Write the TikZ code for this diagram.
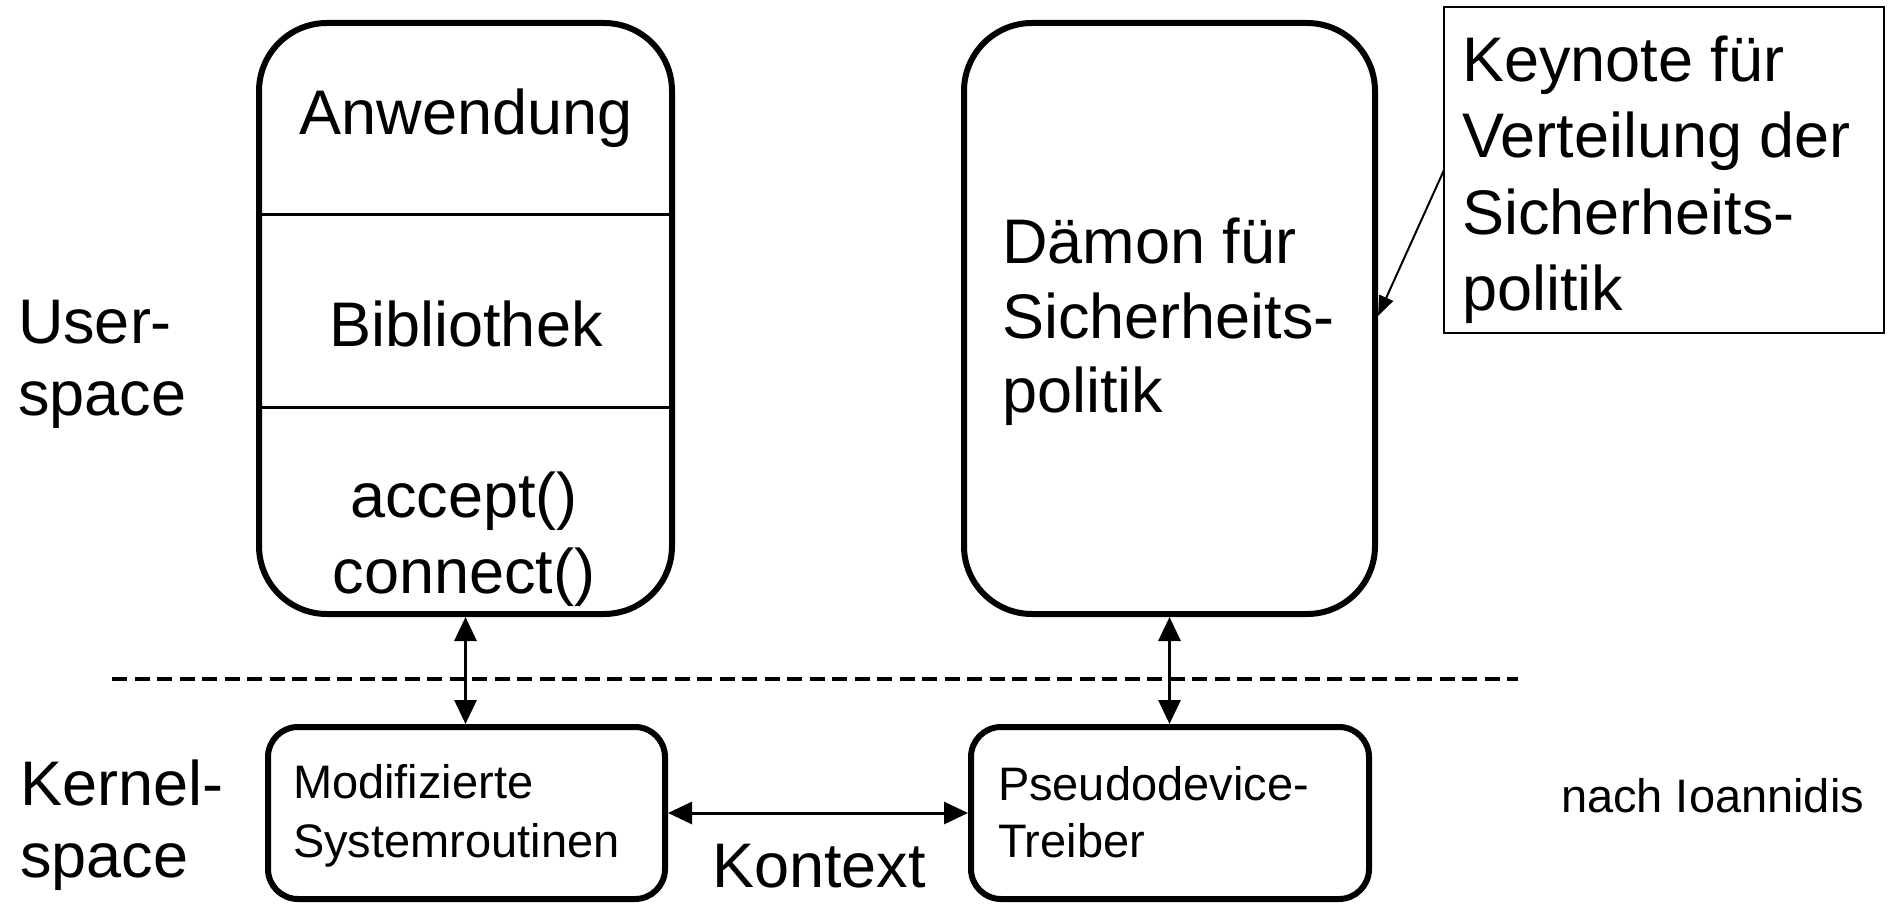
\documentclass[tikz,border=0pt]{standalone}
\usepackage{fontspec}
\setmainfont{Liberation Sans}
\usetikzlibrary{arrows.meta}
\begin{document}
\begin{tikzpicture}[x=1pt,y=-1pt,
  bigbox/.style={draw, line width=6pt, rounded corners=68pt, inner sep=0pt, outer sep=0pt},
  smallbox/.style={draw, line width=6pt, rounded corners=30pt, inner sep=0pt, outer sep=0pt},
  notebox/.style={draw, line width=2pt, inner sep=0pt, outer sep=0pt},
  big/.style={inner sep=0pt, outer sep=0pt, font=\fontsize{63}{74}\selectfont},
  small/.style={inner sep=0pt, outer sep=0pt, font=\fontsize{47}{56}\selectfont},
  divider/.style={line width=3pt},
  link/.style={line width=3pt,
    {Triangle[length=24pt,width=22pt]}-{Triangle[length=24pt,width=22pt]},
    shorten <=3pt, shorten >=3pt},
  pointer/.style={line width=2pt, -{Triangle[length=20pt,width=15pt]}},
  border/.style={line width=3.5pt, dash pattern=on 15pt off 7.5pt}
]
\useasboundingbox (0,0) rectangle (1892,904);

% user space boxes
\node[bigbox, minimum width=413pt, minimum height=591pt] (app) at (465.5,318.5) {};
\node[bigbox, minimum width=411pt, minimum height=591pt] (daemon) at (1169.5,318.5) {};
\draw[divider] (app.west |- 0,215) coordinate (d1l) -- (app.east |- 0,215) coordinate (d1r);
\draw[divider] (app.west |- 0,407) coordinate (d2l) -- (app.east |- 0,407) coordinate (d2r);

% kernel space boxes
\node[smallbox, minimum width=397pt, minimum height=172pt] (sys) at (466.5,813) {};
\node[smallbox, minimum width=398pt, minimum height=172pt] (drv) at (1170,813) {};

% annotation box
\node[notebox, minimum width=440pt, minimum height=326pt] (note) at (1664,170) {};

% user/kernel boundary
\coordinate (bl) at (112,679);
\coordinate (br) at (1518,679);
\draw[border] (bl) -- (br);

% connectors
\draw[link] (app.south) -- (app.south |- sys.north);
\draw[link] (daemon.south) -- (daemon.south |- drv.north);
\draw[link] (sys.east) -- (drv.west);
\coordinate (notetip) at (1378,316);
\draw[pointer] (note.west) -- (notetip);

% texts in the application column
\node[big, anchor=base] (tapp) at (466,135) {Anwendung};
\node[big, anchor=base] (tlib) at (466,346) {Bibliothek};
\node[big, anchor=base] (tacc) at (464,517) {accept()};
\node[big, anchor=base] (tcon) at (464,593) {connect()};

% texts in the daemon box
\node[big, anchor=base west] (td1) at (1002,263) {Dämon für};
\node[big, anchor=base west] (td2) at (1002,338) {Sicherheits-};
\node[big, anchor=base west] (td3) at (1002,412) {politik};

% annotation text
\node[big, anchor=base west] (tn1) at (1462,82) {Keynote für};
\node[big, anchor=base west] (tn2) at (1462,158) {Verteilung der};
\node[big, anchor=base west] (tn3) at (1462,234) {Sicherheits-};
\node[big, anchor=base west] (tn4) at (1462,310) {politik};

% layer labels
\node[big, anchor=base west] (tu1) at (18,343) {User-};
\node[big, anchor=base west] (tu2) at (18,415) {space};
\node[big, anchor=base west] (tk1) at (20,805) {Kernel-};
\node[big, anchor=base west] (tk2) at (20,877) {space};

% kernel box texts
\node[small, anchor=base west] (ts1) at (293,798) {Modifizierte};
\node[small, anchor=base west] (ts2) at (293,857) {Systemroutinen};
\node[small, anchor=base west] (tp1) at (998,800) {Pseudodevice-};
\node[small, anchor=base west] (tp2) at (998,857) {Treiber};

\node[big, anchor=base west] (tctx) at (712,887) {Kontext};
\node[small, anchor=base west] (tsrc) at (1561,812) {nach Ioannidis};
\end{tikzpicture}
\end{document}
